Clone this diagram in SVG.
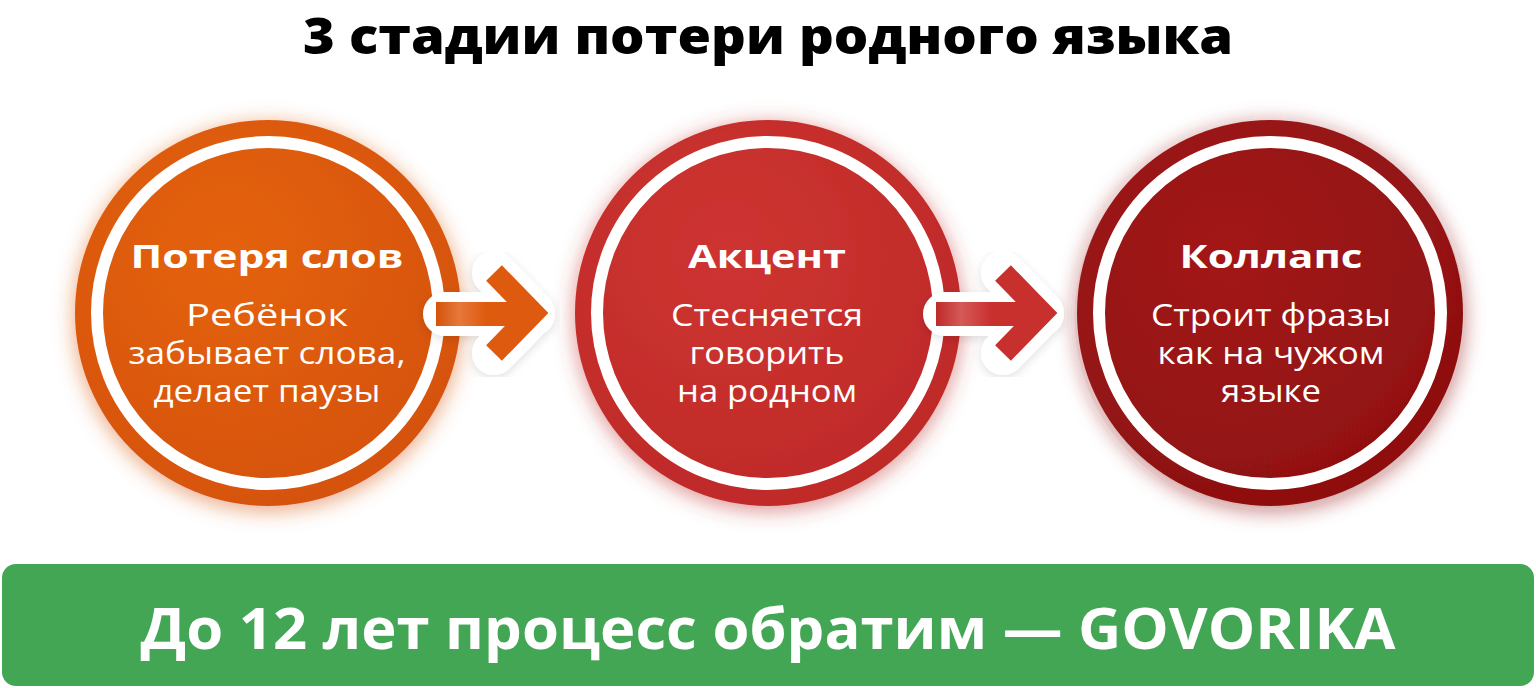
<svg xmlns="http://www.w3.org/2000/svg" width="1536" height="688" viewBox="0 0 1536 688">
  <defs>
    <filter id="glow" x="-30%" y="-30%" width="160%" height="160%">
      <feGaussianBlur in="SourceGraphic" stdDeviation="11" result="b"/>
      <feComponentTransfer in="b" result="bb"><feFuncA type="linear" slope="0.55"/></feComponentTransfer>
      <feOffset in="bb" dx="0" dy="4" result="o"/>
      <feMerge><feMergeNode in="o"/><feMergeNode in="SourceGraphic"/></feMerge>
    </filter>
    <filter id="aglow" x="-30%" y="-30%" width="160%" height="160%">
      <feGaussianBlur in="SourceAlpha" stdDeviation="5" result="b"/>
      <feFlood flood-color="#000000" flood-opacity="0.12"/>
      <feComposite in2="b" operator="in" result="s"/>
      <feOffset in="s" dx="0" dy="3" result="o"/>
      <feMerge><feMergeNode in="o"/><feMergeNode in="SourceGraphic"/></feMerge>
    </filter>
    <radialGradient id="g1" cx="0.4" cy="0.35" r="0.7">
      <stop offset="0" stop-color="#E4620F"/>
      <stop offset="1" stop-color="#D5520A"/>
    </radialGradient>
    <radialGradient id="g2" cx="0.4" cy="0.35" r="0.7">
      <stop offset="0" stop-color="#CE3431"/>
      <stop offset="1" stop-color="#BE2A28"/>
    </radialGradient>
    <radialGradient id="g3" cx="0.4" cy="0.35" r="0.7">
      <stop offset="0" stop-color="#A31818"/>
      <stop offset="1" stop-color="#8E1010"/>
    </radialGradient>
    <linearGradient id="s1" x1="0" y1="0" x2="1" y2="0">
      <stop offset="0" stop-color="#D5520A"/>
      <stop offset="0.25" stop-color="#E6783A"/>
      <stop offset="0.55" stop-color="#DE5A0E"/>
      <stop offset="1" stop-color="#DE5A0E"/>
    </linearGradient>
    <linearGradient id="s2" x1="0" y1="0" x2="1" y2="0">
      <stop offset="0" stop-color="#BE2A28"/>
      <stop offset="0.25" stop-color="#D45A58"/>
      <stop offset="0.55" stop-color="#C8302E"/>
      <stop offset="1" stop-color="#C8302E"/>
    </linearGradient>
  </defs>
  <style>
    .title { font-family: "Open Sans", "Noto Sans", sans-serif; font-weight: 800; fill: #000; }
    .h { font-family: "Open Sans", "Noto Sans", sans-serif; font-weight: 700; font-size: 33px; fill: #fff; text-anchor: middle; }
    .t { font-family: "Open Sans", "Noto Sans", sans-serif; font-weight: 400; font-size: 31px; fill: #fff; text-anchor: middle; }
    .ring { fill: none; stroke: #fff; stroke-width: 12; }
    .aw { fill: none; stroke: #fff; stroke-width: 44; stroke-linejoin: round; stroke-linecap: round; }
    .ac { fill: none; stroke-width: 22; stroke-linejoin: miter; stroke-linecap: butt; }
    .banner-text { font-family: "Open Sans", "Noto Sans", sans-serif; font-weight: 700; font-size: 58px; fill: #fff; text-anchor: middle; }
  </style>
  <rect width="1536" height="688" fill="#ffffff"/>

  <text class="title" x="768" y="54" font-size="50" text-anchor="middle" textLength="930" lengthAdjust="spacingAndGlyphs">3 стадии потери родного языка</text>

  <g id="node1">
    <circle cx="268" cy="313" r="193" fill="url(#g1)" filter="url(#glow)"/>
    <circle class="ring" cx="268" cy="313" r="171"/>
  </g>
  <g id="node2">
    <circle cx="768" cy="313" r="193" fill="url(#g2)" filter="url(#glow)"/>
    <circle class="ring" cx="768" cy="313" r="171"/>
  </g>
  <g id="node3">
    <circle cx="1270" cy="313" r="193" fill="url(#g3)" filter="url(#glow)"/>
    <circle class="ring" cx="1270" cy="313" r="171"/>
  </g>

  <g id="connectors">
    <g filter="url(#aglow)">
      <path class="aw" d="M445,314 L533,314 M494,273 L533,313 L494,353"/>
    </g>
    <rect x="436" y="302" width="92" height="24" fill="url(#s1)"/>
    <path class="ac" stroke="#DE5A0E" d="M494,273 L533,313 L494,353"/>
    <g filter="url(#aglow)">
      <path class="aw" d="M945,314 L1042,314 M1003,273 L1042,313 L1003,353"/>
    </g>
    <rect x="936" y="302" width="101" height="24" fill="url(#s2)"/>
    <path class="ac" stroke="#C8302E" d="M1003,273 L1042,313 L1003,353"/>
  </g>

  <g id="label1">
    <text class="h" x="267" y="268" textLength="273" lengthAdjust="spacingAndGlyphs">Потеря слов</text>
    <text class="t" x="267" y="326" textLength="162" lengthAdjust="spacingAndGlyphs">Ребёнок</text>
    <text class="t" x="267" y="364" textLength="277" lengthAdjust="spacingAndGlyphs">забывает слова,</text>
    <text class="t" x="267" y="402" textLength="227" lengthAdjust="spacingAndGlyphs">делает паузы</text>
  </g>
  <g id="label2">
    <text class="h" x="767" y="268" textLength="158" lengthAdjust="spacingAndGlyphs">Акцент</text>
    <text class="t" x="767" y="326" textLength="192" lengthAdjust="spacingAndGlyphs">Стесняется</text>
    <text class="t" x="767" y="364" textLength="155" lengthAdjust="spacingAndGlyphs">говорить</text>
    <text class="t" x="767" y="402" textLength="180" lengthAdjust="spacingAndGlyphs">на родном</text>
  </g>
  <g id="label3">
    <text class="h" x="1271" y="268" textLength="183" lengthAdjust="spacingAndGlyphs">Коллапс</text>
    <text class="t" x="1271" y="326" textLength="240" lengthAdjust="spacingAndGlyphs">Строит фразы</text>
    <text class="t" x="1271" y="364" textLength="227" lengthAdjust="spacingAndGlyphs">как на чужом</text>
    <text class="t" x="1271" y="402" textLength="100" lengthAdjust="spacingAndGlyphs">языке</text>
  </g>

  <g id="banner">
    <rect x="2" y="564" width="1532" height="122" rx="14" fill="#43A654"/>
    <text class="banner-text" x="768" y="649" textLength="1255" lengthAdjust="spacingAndGlyphs">До 12 лет процесс обратим — GOVORIKA</text>
  </g>
</svg>
